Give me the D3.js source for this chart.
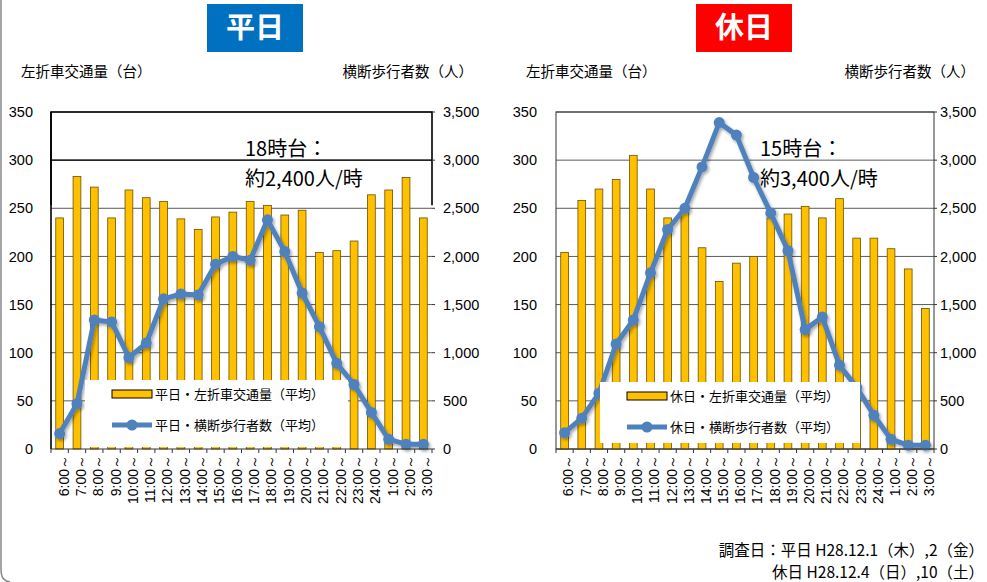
<!DOCTYPE html>
<html lang="ja">
<head>
  <meta charset="UTF-8">
  <title>左折車交通量と横断歩行者数</title>
  <script src="https://d3js.org/d3.v7.min.js"></script>
  <style>
    body { margin: 0; background: #fff; }
    svg { display: block; }
    .num { font-family: "Liberation Sans", Arial, sans-serif; fill: #000; }
    .jp { font-family: "Noto Sans CJK JP", sans-serif; fill: #000; }
  </style>
</head>
<body>
  <div id="chart"></div>
  <script>
    // time bands (x categories)
    const hours = ["6:00", "7:00", "8:00", "9:00", "10:00", "11:00", "12:00", "13:00",
                   "14:00", "15:00", "16:00", "17:00", "18:00", "19:00", "20:00", "21:00",
                   "22:00", "23:00", "24:00", "1:00", "2:00", "3:00"];

    // weekday
    const weekdayCars = [240, 283, 272, 240, 269, 261, 257, 239, 228, 241, 246, 257,
                         253, 243, 248, 204, 206, 216, 264, 269, 282, 240];
    const weekdayPeds = [160, 470, 1340, 1320, 950, 1100, 1560, 1610, 1600, 1920, 2000, 1960,
                         2380, 2050, 1620, 1270, 890, 670, 380, 100, 50, 50];

    // holiday
    const holidayCars = [204, 258, 270, 280, 305, 270, 240, 250, 209, 174, 193, 200,
                         240, 244, 252, 240, 260, 219, 219, 208, 187, 146];
    const holidayPeds = [170, 320, 580, 1090, 1340, 1830, 2280, 2500, 2930, 3390, 3260, 2820,
                         2450, 2060, 1240, 1370, 870, 640, 350, 100, 40, 40];

    const carTicks = [0, 50, 100, 150, 200, 250, 300, 350];
    const pedTicks = [0, 500, 1000, 1500, 2000, 2500, 3000, 3500];

    const width = 987, height = 582;
    const plotTop = 112, plotBottom = 449;

    const svg = d3.select("#chart").append("svg")
      .attr("width", width)
      .attr("height", height);

    const defs = svg.append("defs");
    defs.append("filter").attr("id", "shadow")
      .attr("x", "-10%").attr("y", "-10%").attr("width", "120%").attr("height", "120%")
      .append("feDropShadow")
      .attr("dx", 1.5).attr("dy", 2).attr("stdDeviation", 1.5)
      .attr("flood-color", "#000").attr("flood-opacity", 0.35);

    // outer frame (left edge with rounded corner)
    svg.append("path")
      .attr("d", "M1,0 V570 Q1,581 10,582")
      .attr("fill", "none")
      .attr("stroke", "#888")
      .attr("stroke-width", 1.5);

    function drawChart(o) {
      const g = svg.append("g");

      const x = d3.scaleBand()
        .domain(hours)
        .range([o.x0, o.x1])
        .paddingInner(0.55)
        .paddingOuter(0.275);
      const step = x.step();
      const cx = d => x(d) + x.bandwidth() / 2;

      const yCar = d3.scaleLinear().domain([0, 350]).range([plotBottom, plotTop]);
      const yPed = d3.scaleLinear().domain([0, 3500]).range([plotBottom, plotTop]);

      // gridlines
      g.append("g").selectAll("line")
        .data(carTicks.filter(d => d > 0))
        .join("line")
        .attr("x1", o.x0).attr("x2", o.x1)
        .attr("y1", d => yCar(d)).attr("y2", d => yCar(d))
        .attr("stroke", "#5a5a5a")
        .attr("stroke-width", 1);

      // frame
      if (o.box) {
        const yb = yCar(250) - 3;
        g.append("path")
          .attr("d", `M${o.x0},${yb} V${plotTop} H${o.x1} V${yb}`)
          .attr("fill", "none")
          .attr("stroke", "#000")
          .attr("stroke-width", 1.6);
        g.append("line")
          .attr("x1", o.x0).attr("x2", o.x0)
          .attr("y1", plotTop).attr("y2", plotBottom)
          .attr("stroke", "#000").attr("stroke-width", 1.6);
        g.append("line")
          .attr("x1", o.x0).attr("x2", o.x1)
          .attr("y1", yCar(300)).attr("y2", yCar(300))
          .attr("stroke", "#000").attr("stroke-width", 1.2);
      } else {
        g.append("rect")
          .attr("x", o.x0).attr("y", plotTop)
          .attr("width", o.x1 - o.x0)
          .attr("height", plotBottom - plotTop)
          .attr("fill", "none")
          .attr("stroke", "#333")
          .attr("stroke-width", 1);
      }

      // bars
      g.append("g").selectAll("rect")
        .data(o.cars)
        .join("rect")
        .attr("x", (d, i) => x(hours[i]))
        .attr("y", d => yCar(d))
        .attr("width", x.bandwidth())
        .attr("height", d => plotBottom - yCar(d))
        .attr("fill", "#FFC000")
        .attr("stroke", "#6b5200")
        .attr("stroke-width", 0.8);

      // pedestrian line
      const line = d3.line()
        .x((d, i) => cx(hours[i]))
        .y(d => yPed(d));

      const lg = g.append("g").attr("filter", "url(#shadow)");
      lg.append("path")
        .datum(o.peds)
        .attr("d", line)
        .attr("fill", "none")
        .attr("stroke", "#4F81BD")
        .attr("stroke-width", 5)
        .attr("stroke-linejoin", "round");
      lg.selectAll("circle")
        .data(o.peds)
        .join("circle")
        .attr("cx", (d, i) => cx(hours[i]))
        .attr("cy", d => yPed(d))
        .attr("r", 5.5)
        .attr("fill", "#4F81BD");

      // x axis
      g.append("line")
        .attr("x1", o.x0).attr("x2", o.x1)
        .attr("y1", plotBottom).attr("y2", plotBottom)
        .attr("stroke", "#333");
      g.append("g").selectAll("line")
        .data(d3.range(hours.length + 1))
        .join("line")
        .attr("x1", i => o.x0 + i * step).attr("x2", i => o.x0 + i * step)
        .attr("y1", plotBottom).attr("y2", plotBottom + 4)
        .attr("stroke", "#333");

      g.append("g").selectAll("text")
        .data(hours)
        .join("text")
        .attr("class", "num")
        .attr("transform", d => `translate(${cx(d) + 4},${plotBottom + 6}) rotate(-90)`)
        .attr("text-anchor", "end")
        .attr("dy", "0.35em")
        .style("font-size", "14px")
        .text(d => d + "～");

      // y axis labels
      g.append("g").selectAll("text")
        .data(carTicks)
        .join("text")
        .attr("class", "num")
        .attr("x", o.x0 - o.leftGap)
        .attr("y", d => yCar(d))
        .attr("dy", "0.35em")
        .attr("text-anchor", "end")
        .style("font-size", "14.5px")
        .text(d => d);

      g.append("g").selectAll("text")
        .data(pedTicks)
        .join("text")
        .attr("class", "num")
        .attr("x", o.x1 + o.rightGap)
        .attr("y", d => yPed(d))
        .attr("dy", "0.35em")
        .attr("text-anchor", "start")
        .style("font-size", "14.5px")
        .text(d3.format(","));

      g.append("g").selectAll("line")
        .data(pedTicks)
        .join("line")
        .attr("x1", o.x1).attr("x2", o.x1 + 3)
        .attr("y1", d => yPed(d)).attr("y2", d => yPed(d))
        .attr("stroke", "#333");

      // axis titles
      g.append("text").attr("class", "jp")
        .attr("x", o.x0 - 30).attr("y", 77)
        .style("font-size", "14.5px")
        .text("左折車交通量（台）");
      g.append("text").attr("class", "jp")
        .attr("x", o.x1 + 41).attr("y", 77)
        .attr("text-anchor", "end")
        .style("font-size", "14.5px")
        .text("横断歩行者数（人）");

      // title badge
      g.append("rect")
        .attr("x", o.titleX - 48).attr("y", 4)
        .attr("width", 96).attr("height", 48)
        .attr("fill", o.titleColor);
      g.append("text").attr("class", "jp")
        .attr("x", o.titleX).attr("y", 28)
        .attr("dy", "0.36em")
        .attr("text-anchor", "middle")
        .style("font-size", "29px")
        .style("font-weight", "bold")
        .style("fill", "#fff")
        .text(o.title);

      // annotation
      const ann = g.append("text").attr("class", "jp")
        .style("font-size", "20px");
      ann.append("tspan").attr("x", o.annX).attr("y", 156).text(o.ann1);
      ann.append("tspan").attr("x", o.annX).attr("y", 186).text(o.ann2);

      // legend
      const L = o.legend;
      g.append("rect")
        .attr("x", L.x).attr("y", L.y)
        .attr("width", L.w).attr("height", L.h)
        .attr("fill", "#fff");
      g.append("rect")
        .attr("x", L.x + 27).attr("y", L.y + 10)
        .attr("width", 40).attr("height", 8)
        .attr("fill", "#FFC000")
        .attr("stroke", "#000")
        .attr("stroke-width", 1);
      g.append("line")
        .attr("x1", L.x + 27).attr("x2", L.x + 67)
        .attr("y1", L.y + 45).attr("y2", L.y + 45)
        .attr("stroke", "#4F81BD")
        .attr("stroke-width", 5);
      g.append("circle")
        .attr("cx", L.x + 47).attr("cy", L.y + 45)
        .attr("r", 5.5)
        .attr("fill", "#4F81BD");
      g.append("text").attr("class", "jp")
        .attr("x", L.x + 70).attr("y", L.y + 14).attr("dy", "0.36em")
        .style("font-size", "13px")
        .text(o.legendBar);
      g.append("text").attr("class", "jp")
        .attr("x", L.x + 70).attr("y", L.y + 45).attr("dy", "0.36em")
        .style("font-size", "13px")
        .text(o.legendLine);
    }

    drawChart({
      x0: 51, x1: 432, leftGap: 18, rightGap: 11,
      cars: weekdayCars, peds: weekdayPeds, box: true,
      title: "平日", titleX: 255, titleColor: "#0070C0",
      ann1: "18時台：", ann2: "約2,400人/時", annX: 245,
      legend: { x: 85, y: 380, w: 263, h: 67 },
      legendBar: "平日・左折車交通量（平均）",
      legendLine: "平日・横断歩行者数（平均）"
    });

    drawChart({
      x0: 556, x1: 934, leftGap: 19, rightGap: 6,
      cars: holidayCars, peds: holidayPeds, box: false,
      title: "休日", titleX: 744, titleColor: "#FF0000",
      ann1: "15時台：", ann2: "約3,400人/時", annX: 760,
      legend: { x: 600, y: 382, w: 260, h: 61 },
      legendBar: "休日・左折車交通量（平均）",
      legendLine: "休日・横断歩行者数（平均）"
    });

    // survey dates
    const note = svg.append("text").attr("class", "jp")
      .attr("text-anchor", "end")
      .style("font-size", "15.5px");
    note.append("tspan").attr("x", 984).attr("y", 556).text("調査日：平日 H28.12.1（木）,2（金）");
    note.append("tspan").attr("x", 984).attr("y", 578).text("休日 H28.12.4（日）,10（土）");
  </script>
</body>
</html>
